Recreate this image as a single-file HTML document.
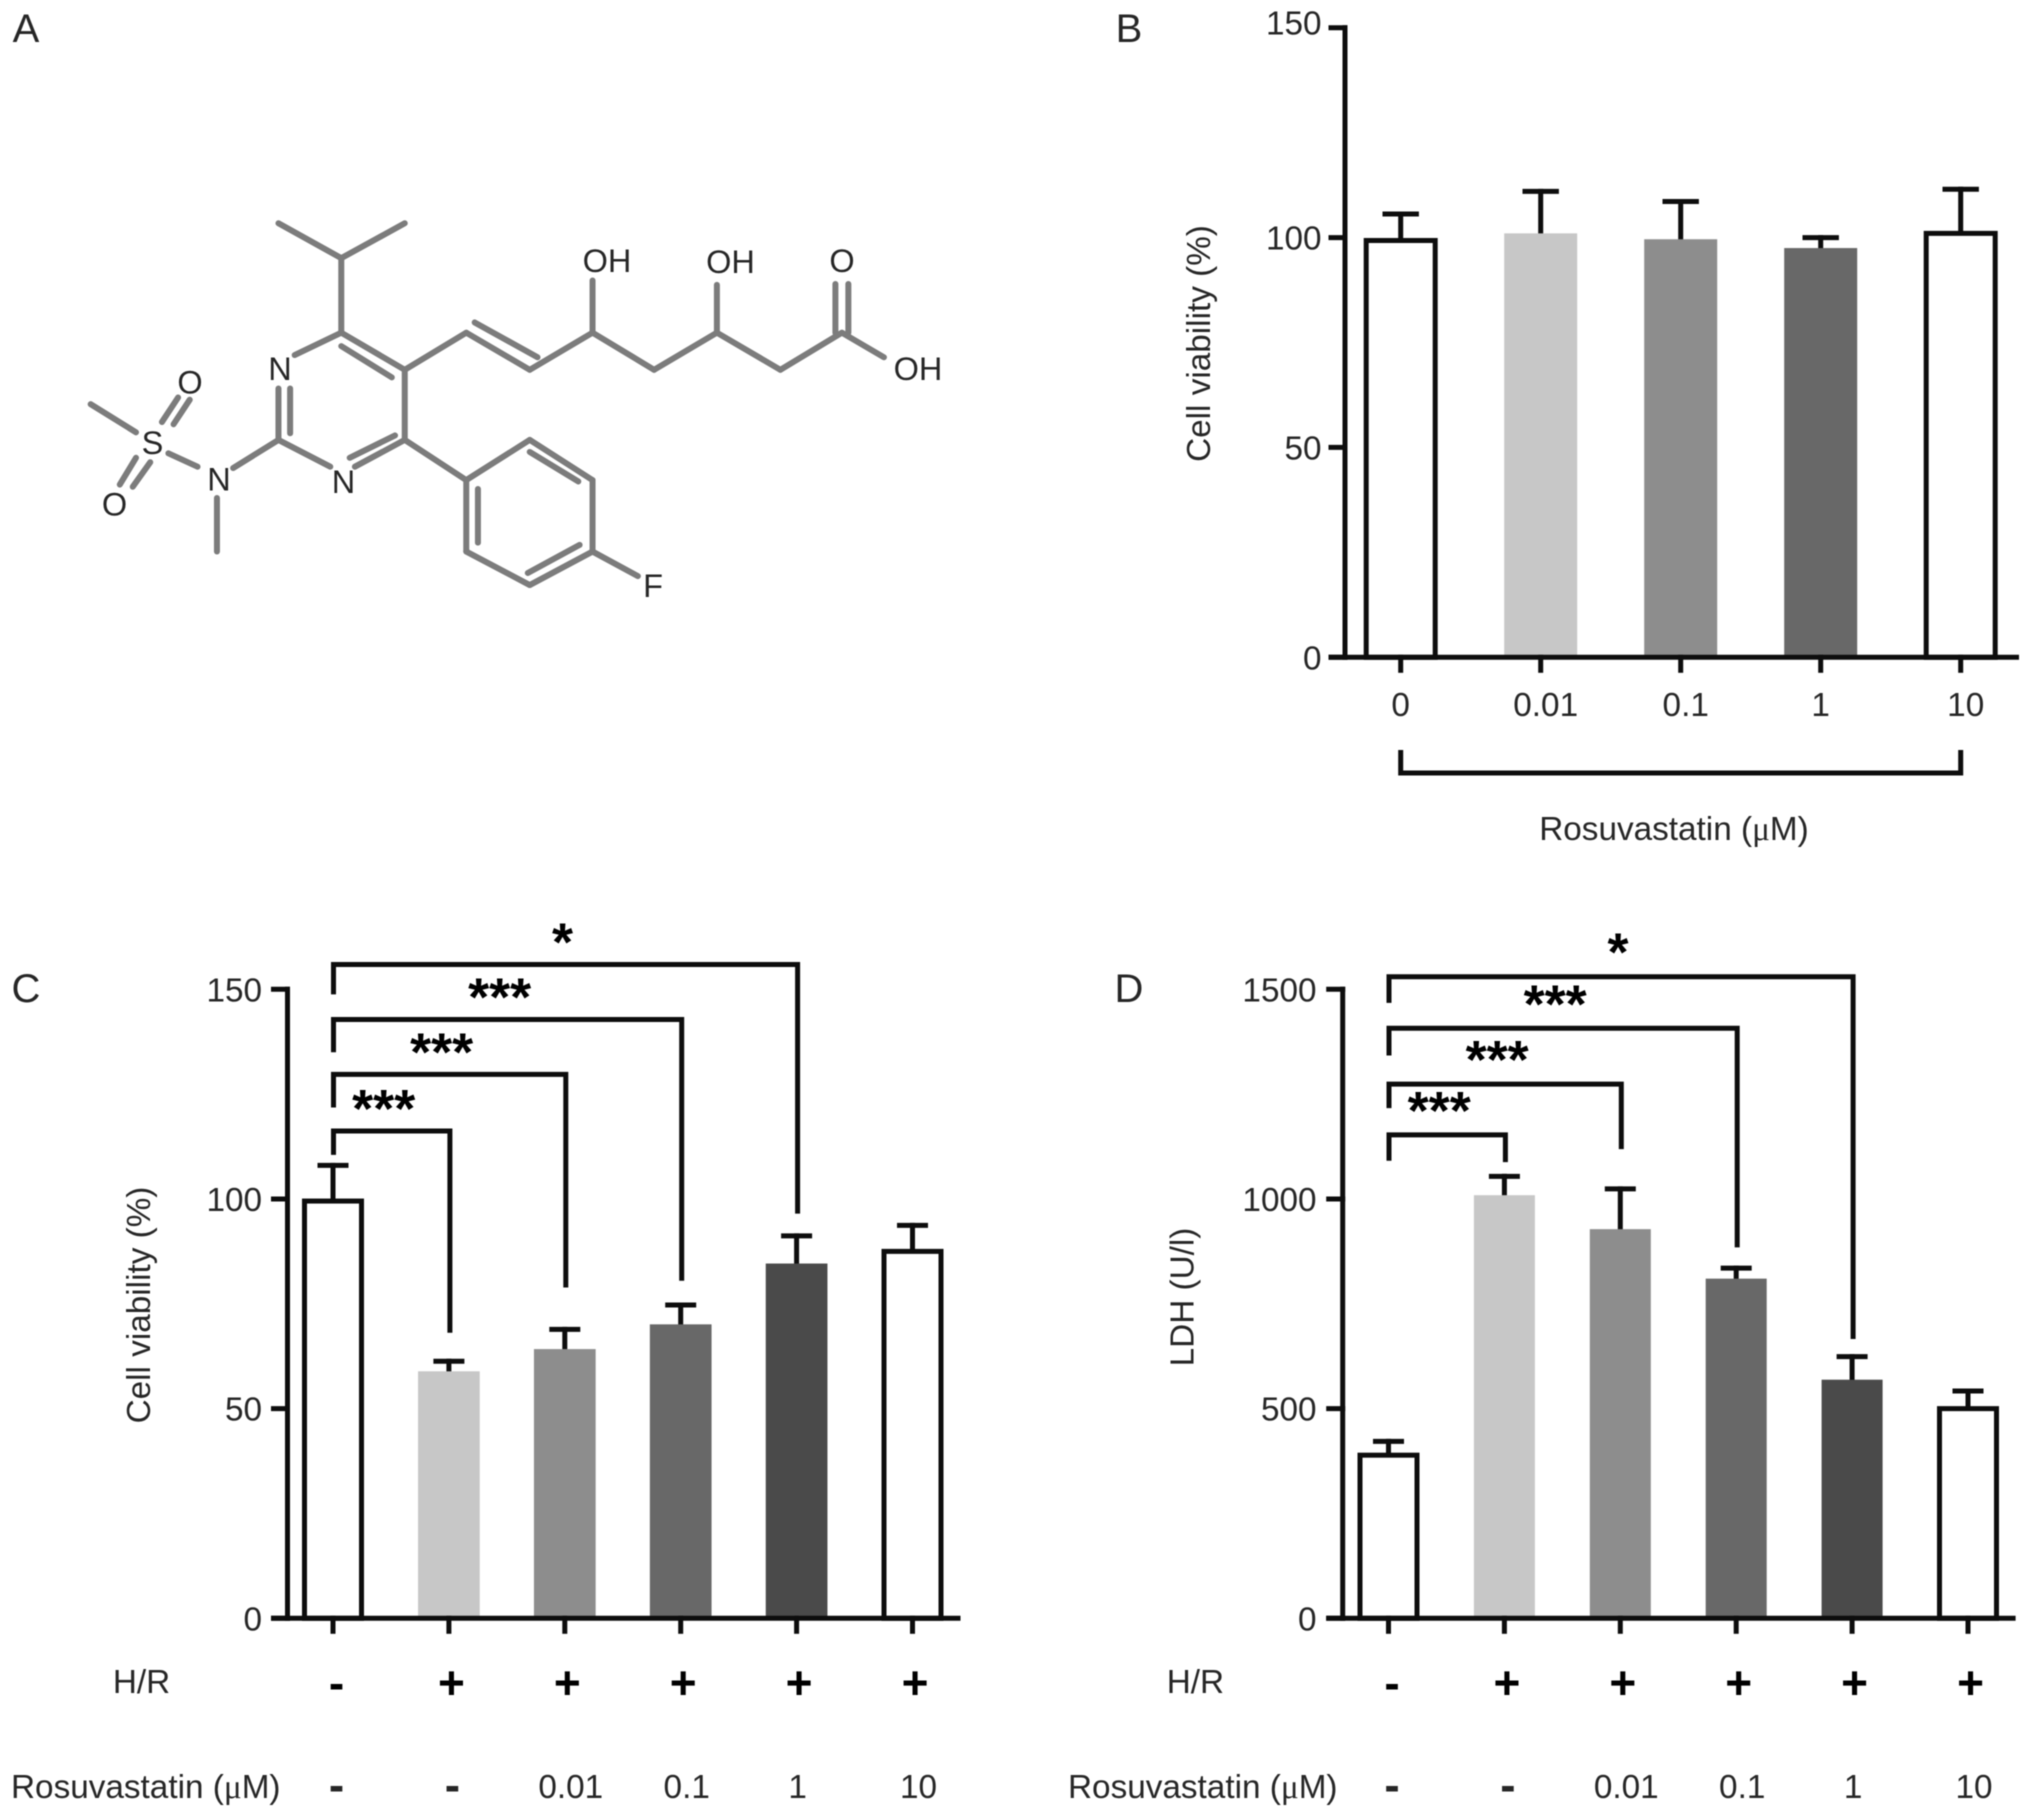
<!DOCTYPE html>
<html lang="en">
<head>
<meta charset="utf-8">
<title>Rosuvastatin figure</title>
<style>
html,body{margin:0;padding:0;background:#fff;}
svg{display:block;filter:blur(0.5px);}
text{font-family:"Liberation Sans",sans-serif;fill:#262626;}
.mu{font-family:"Liberation Serif",serif;}
.mol line{stroke:#7c7c7c;stroke-width:6;stroke-linecap:round;vector-effect:non-scaling-stroke;}
</style>
</head>
<body>
<svg id="figure" xmlns="http://www.w3.org/2000/svg" width="2031" height="1811" viewBox="0 0 2031 1811">
  <rect x="0" y="0" width="2031" height="1811" fill="#fff"/>
  <text x="26" y="42" font-size="40" text-anchor="middle">A</text>
  <text x="1129" y="42" font-size="40" text-anchor="middle">B</text>
  <text x="26" y="1002" font-size="40" text-anchor="middle">C</text>
  <text x="1129" y="1002" font-size="40" text-anchor="middle">D</text>

  <g class="mol" transform="scale(0.6476,0.4466)">
    <line x1="430" y1="500" x2="527" y2="578"/><line x1="527" y1="578" x2="625" y2="500"/><line x1="527" y1="578" x2="527" y2="745"/>
    <line x1="527" y1="745" x2="625" y2="828"/><line x1="527" y1="775" x2="605" y2="845"/>
    <line x1="625" y1="828" x2="625" y2="985"/>
    <line x1="625" y1="985" x2="548" y2="1045"/><line x1="610" y1="975" x2="540" y2="1025"/>
    <line x1="510" y1="1045" x2="430" y2="985"/>
    <line x1="430" y1="985" x2="430" y2="870"/><line x1="448" y1="970" x2="448" y2="870"/>
    <line x1="455" y1="795" x2="527" y2="745"/>
    <line x1="625" y1="828" x2="720" y2="745"/><line x1="720" y1="745" x2="818" y2="828"/><line x1="733" y1="722" x2="830" y2="800"/>
    <line x1="818" y1="828" x2="915" y2="745"/><line x1="915" y1="745" x2="1010" y2="828"/><line x1="1010" y1="828" x2="1107" y2="745"/>
    <line x1="1107" y1="745" x2="1205" y2="828"/><line x1="1205" y1="828" x2="1300" y2="745"/>
    <line x1="915" y1="745" x2="915" y2="628"/><line x1="1107" y1="745" x2="1107" y2="638"/>
    <line x1="1290" y1="745" x2="1290" y2="636"/><line x1="1310" y1="745" x2="1310" y2="636"/><line x1="1300" y1="745" x2="1365" y2="800"/>
    <line x1="625" y1="985" x2="720" y2="1075"/>
    <line x1="720" y1="1075" x2="818" y2="985"/><line x1="818" y1="985" x2="915" y2="1075"/><line x1="915" y1="1075" x2="915" y2="1235"/>
    <line x1="915" y1="1235" x2="818" y2="1310"/><line x1="818" y1="1310" x2="720" y2="1235"/><line x1="720" y1="1235" x2="720" y2="1075"/>
    <line x1="818" y1="1012" x2="893" y2="1078"/><line x1="738" y1="1095" x2="738" y2="1215"/><line x1="815" y1="1283" x2="895" y2="1220"/>
    <line x1="915" y1="1235" x2="985" y2="1290"/>
    <line x1="430" y1="985" x2="360" y2="1048"/><line x1="305" y1="1045" x2="260" y2="1015"/><line x1="335" y1="1115" x2="335" y2="1235"/>
    <line x1="140" y1="905" x2="210" y2="968"/>
    <line x1="250" y1="945" x2="275" y2="890"/><line x1="268" y1="950" x2="293" y2="895"/>
    <line x1="185" y1="1085" x2="210" y2="1025"/><line x1="205" y1="1090" x2="232" y2="1035"/>
  </g>
  <g font-size="32.5" text-anchor="middle">
    <text x="280" y="380">N</text>
    <text x="343.5" y="493">N</text>
    <text x="152.5" y="454">S</text>
    <text x="190" y="393.5">O</text>
    <text x="114.5" y="515.5">O</text>
    <text x="219" y="490.5">N</text>
    <text x="607" y="272">OH</text>
    <text x="730.5" y="273">OH</text>
    <text x="842" y="272">O</text>
    <text x="918" y="380">OH</text>
    <text x="653" y="597">F</text>
  </g>
</svg>
<script>
// Panel B data
const bCategories = ["0", "0.01", "0.1", "1", "10"];
const bValues = [99.3, 101, 99.6, 97.5, 101];
const bErrors = [6.3, 10, 9, 2.5, 10.5];
const bTicks = [0, 50, 100, 150];
// Panel C data
const cHypoxia = ["-", "+", "+", "+", "+", "+"];
const cDose = ["-", "-", "0.01", "0.1", "1", "10"];
const cValues = [99.5, 58.9, 64.2, 70.1, 84.6, 87.5];
const cErrors = [8.5, 2.4, 4.7, 4.6, 6.6, 6.2];
const cTicks = [0, 50, 100, 150];
const cBracketTargets = [1, 2, 3, 4];
const cBracketStart = [110.5, 121.8, 135, 148.8];
const cBracketTop = [116.2, 129.7, 142.8, 155.9];
const cBracketEnd = [68.1, 78.9, 80.5, 96.5];
const cBracketStars = ["***", "***", "***", "*"];
// Panel D data
const dHypoxia = ["-", "+", "+", "+", "+", "+"];
const dDose = ["-", "-", "0.01", "0.1", "1", "10"];
const dValues = [389, 1009, 928, 810, 569, 500];
const dErrors = [33, 45, 96, 25, 55, 42];
const dTicks = [0, 500, 1000, 1500];
const dBracketTargets = [1, 2, 3, 4];
const dBracketStart = [1091, 1216.6, 1342, 1467.6];
const dBracketTop = [1152.8, 1274, 1407, 1530];
const dBracketEnd = [1088, 1119, 884.6, 666];
const dBracketStars = ["***", "***", "***", "*"];

const fillsB = ["#fff", "#c7c7c7", "#8d8d8d", "#686868", "#fff"];
const fillsCD = ["#fff", "#c7c7c7", "#8d8d8d", "#686868", "#4a4a4a", "#fff"];

const NS = "http://www.w3.org/2000/svg";
const root = document.getElementById("figure");
const INK = "#0d0d0d";
const SW = 5;
const FS = 33.3;

function make(parent, tag, attrs, content) {
  const el = document.createElementNS(NS, tag);
  for (const k in attrs) el.setAttribute(k, attrs[k]);
  if (content !== undefined) el.textContent = content;
  parent.appendChild(el);
  return el;
}
function strokeLine(parent, x1, y1, x2, y2) {
  return make(parent, "line", { x1, y1, x2, y2, stroke: INK, "stroke-width": SW, "stroke-linecap": "square" });
}

function drawAxes(g, p, y) {
  const yAxis = strokeLine(g, p.axisX, y(p.domainMax), p.axisX, y(0));
  
  
  const xAxis = strokeLine(g, p.axisX - 14, y(0), p.axisEnd - 2.5, y(0));
  
  
  p.ticks.forEach(function (t) {
    const tick = strokeLine(g, p.axisX - 14, y(t), p.axisX, y(t));
    
    
    const shift = t === p.domainMax ? p.topLabelShift : 0;
    const label = make(g, "text", { x: p.tickRight, y: y(t) + 12 + shift, "font-size": FS, "text-anchor": "end" }, String(t));
    
    
  });
  const title = make(g, "text", {
    x: p.titleX, y: p.titleY, "font-size": FS, "text-anchor": "middle",
    transform: "rotate(-90 " + p.titleX + " " + p.titleY + ")"
  }, p.title);
  
  
}

function drawBars(g, p, x, y) {
  p.values.forEach(function (v, i) {
    const cx = x(i);
    const outlined = p.fills[i] === "#fff";
    const top = y(v);
    const errTop = y(v + p.errors[i]);
    const stem = strokeLine(g, cx, top, cx, errTop);
    
    
    const cap = strokeLine(g, cx - p.capHalf, errTop, cx + p.capHalf, errTop);
    
    
    const w = outlined ? p.outlineWidth : p.barWidth;
    const bar = make(g, "rect", {
      x: cx - w / 2, y: top, width: w, height: y(0) - top, fill: p.fills[i],
      stroke: outlined ? INK : "none", "stroke-width": outlined ? SW : 0
    });
    
    
    const tick = strokeLine(g, cx, y(0), cx, y(0) + 13);
    
    
  });
}

function drawBrackets(g, p, x, y) {
  p.targets.forEach(function (target, i) {
    const left = x(0) + 0.5;
    const right = x(target) + 1;
    const path = make(g, "path", {
      d: "M" + left + " " + y(p.bStart[i]) + "V" + y(p.bTop[i]) + "H" + right + "V" + y(p.bEnd[i]),
      fill: "none", stroke: INK, "stroke-width": SW
    });
    
    
    const stars = make(g, "text", {
      x: (left + right) / 2 + (p.stars[i].length > 1 ? -8 : -3), y: y(p.bTop[i]) - p.starLift,
      "font-size": 54, "font-weight": "bold", "text-anchor": "middle"
    }, p.stars[i]);
    stars.style.fill = "#000";
    
    
  });
}

function doseTitle(g, attrs) {
  const t = make(g, "text", attrs);
  make(t, "tspan", {}, "Rosuvastatin (");
  make(t, "tspan", { class: "mu" }, "\u03BC");
  make(t, "tspan", {}, "M)");
  return t;
}

function drawRows(g, p, x) {
  const hr = make(g, "text", { x: p.hrX, y: 1693, "font-size": FS, "text-anchor": "middle" }, "H/R");
  
  
  const dose = doseTitle(g, { x: p.doseX, y: 1798, "font-size": FS });
  
  
  p.hypoxia.forEach(function (s, i) {
    const isPlus = s === "+";
    const mark = make(g, "text", {
      x: x(i) + (isPlus ? 2.5 : 3.5), y: isPlus ? 1698.5 : 1699, "font-size": 46,
      "font-weight": "bold", "text-anchor": "middle"
    }, s);
    mark.style.fill = "#000";
    
    
  });
  p.dose.forEach(function (s, i) {
    const isDash = s === "-";
    const shift = isDash ? 3.5 : (s === "1" ? 1 : 6);
    const cell = make(g, "text", {
      x: x(i) + shift, y: isDash ? 1801 : 1798, "font-size": isDash ? 46 : FS,
      "font-weight": isDash ? "bold" : "normal", "text-anchor": "middle"
    }, s);
    
    
  });
}

function drawPanel(name, p) {
  const g = make(root, "g", {});
  
  
  const y = function (v) { return p.y0 - (v / p.domainMax) * (p.y0 - p.yTop); };
  const x = function (i) { return p.x0 + i * p.step; };
  drawBars(g, p, x, y);
  drawAxes(g, p, y);
  if (p.targets) drawBrackets(g, p, x, y);
  if (p.hypoxia) drawRows(g, p, x);
  return { g, x, y };
}

const panelB = drawPanel("panel-b-cell-viability", {
  values: bValues, errors: bErrors, fills: fillsB, ticks: bTicks, domainMax: 150,
  y0: 657.3, yTop: 27.7, axisX: 1345, axisEnd: 2019, tickRight: 1321.5, topLabelShift: -5,
  x0: 1400.7, step: 140, barWidth: 73, outlineWidth: 69, capHalf: 15.7,
  title: "Cell viability (%)", titleX: 1210, titleY: 343.5
});
bCategories.forEach(function (c, i) {
  const label = make(panelB.g, "text", {
    x: panelB.x(i) + (i === 0 || i === 3 ? 0 : 5), y: 716, "font-size": FS, "text-anchor": "middle"
  }, c);
  
  
});
const doseBracket = make(panelB.g, "path", {
  d: "M" + panelB.x(0) + " 750V773H" + panelB.x(bCategories.length - 1) + "V750",
  fill: "none", stroke: INK, "stroke-width": SW
});


const doseTitleB = doseTitle(panelB.g, { x: 1674, y: 840, "font-size": FS, "text-anchor": "middle" });



drawPanel("panel-c-cell-viability", {
  values: cValues, errors: cErrors, fills: fillsCD, ticks: cTicks, domainMax: 150,
  y0: 1618.3, yTop: 989.3, axisX: 287.5, axisEnd: 960.5, tickRight: 262, topLabelShift: 0,
  x0: 333, step: 115.9, barWidth: 61.7, outlineWidth: 57, capHalf: 13,
  title: "Cell viability (%)", titleX: 150, titleY: 1305, starLift: 4,
  targets: cBracketTargets, bStart: cBracketStart, bTop: cBracketTop, bEnd: cBracketEnd, stars: cBracketStars,
  hypoxia: cHypoxia, dose: cDose, hrX: 141.5, doseX: 11
});

drawPanel("panel-d-ldh", {
  values: dValues, errors: dErrors, fills: fillsCD, ticks: dTicks, domainMax: 1500,
  y0: 1618.3, yTop: 989.3, axisX: 1342.7, axisEnd: 2015.6, tickRight: 1316.5, topLabelShift: 0,
  x0: 1388.5, step: 115.9, barWidth: 61, outlineWidth: 57, capHalf: 13,
  title: "LDH (U/l)", titleX: 1193.7, titleY: 1297, starLift: 6,
  targets: dBracketTargets, bStart: dBracketStart, bTop: dBracketTop, bEnd: dBracketEnd, stars: dBracketStars,
  hypoxia: dHypoxia, dose: dDose, hrX: 1195.4, doseX: 1068
});
</script>
</body>
</html>
